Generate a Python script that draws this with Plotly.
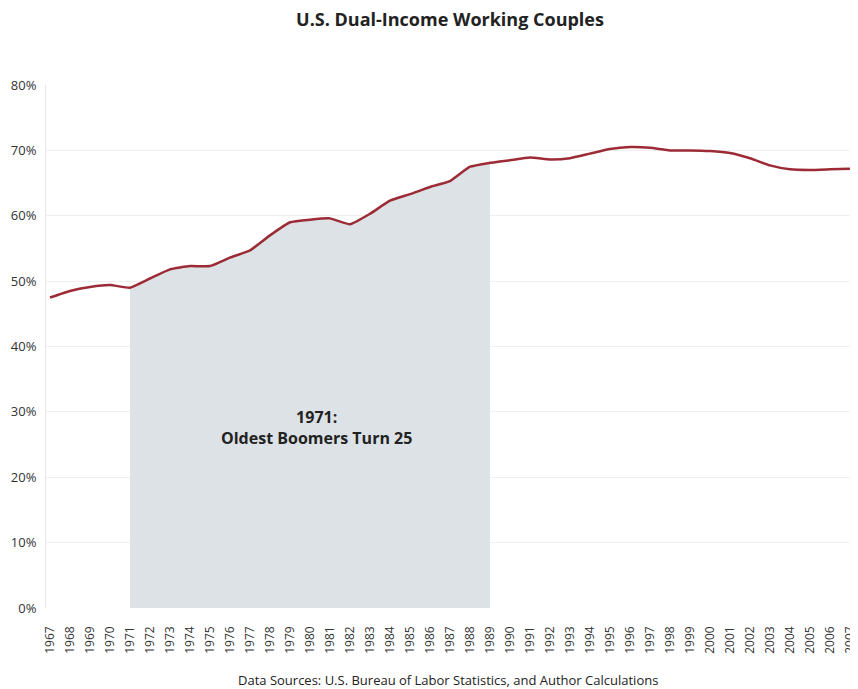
import plotly.graph_objects as go

years = list(range(1967, 2008))
pct = [47.5, 48.5, 49.1, 49.4, 49.0, 50.4, 51.8, 52.3, 52.3, 53.6, 54.7, 57.0,
       59.0, 59.4, 59.6, 58.7, 60.3, 62.3, 63.3, 64.4, 65.3, 67.5, 68.1,
       68.5, 68.9, 68.6, 68.8, 69.5, 70.2, 70.5, 70.4, 70.0, 70.0, 69.9,
       69.6, 68.8, 67.7, 67.1, 67.0, 67.1, 67.2]

shade_start = 1971
shade_end = 1989
annot_text = "<b>1971:<br>Oldest Boomers Turn 25</b>"
title_text = "<b>U.S. Dual-Income Working Couples</b>"
source_text = "Data Sources: U.S. Bureau of Labor Statistics, and Author Calculations"
y_ticks = [0, 10, 20, 30, 40, 50, 60, 70, 80]
y_ticklabels = [f"{v}%" for v in y_ticks]

shade_x = [y for y in years if shade_start <= y <= shade_end]
shade_y = [pct[years.index(y)] for y in shade_x]

fig = go.Figure()
fig.add_trace(go.Scatter(x=shade_x, y=shade_y, mode="lines", line=dict(width=0),
                         fill="tozeroy", fillcolor="#dde2e6", hoverinfo="skip",
                         showlegend=False))
fig.add_trace(go.Scatter(x=years, y=pct, mode="lines",
                         line=dict(color="#9c2b35", width=2.5, shape="spline", smoothing=0.4),
                         showlegend=False))

fig.add_annotation(x=1980.3, y=27.6, text=annot_text,
                   showarrow=False, font=dict(family="Open Sans", size=16, color="#222"),
                   xanchor="center", yanchor="middle")
fig.add_annotation(x=0.4957, y=0, xref="paper", yref="paper", text=source_text,
                   showarrow=False, font=dict(family="Open Sans", size=13, color="#222"),
                   xanchor="center", yanchor="middle", yshift=-72)

fig.update_layout(
    width=850, height=681,
    margin=dict(l=38, r=2, t=77, b=81, autoexpand=False),
    paper_bgcolor="white", plot_bgcolor="white",
    title=dict(text=title_text, x=0.52, xanchor="center", y=0.983, yanchor="middle",
               font=dict(family="Open Sans", size=18, color="#222")),
    font=dict(family="Open Sans", color="#333"),
    xaxis=dict(range=[1966.8, 2007.3], tickmode="array", tickvals=years,
               ticktext=[str(y) for y in years], tickangle=-90, automargin=False,
               tickfont=dict(size=12, color="#333"), showgrid=False, zeroline=False,
               showline=False, ticks="", ticklabelstandoff=15,
               ticklabeloverflow="allow"),
    yaxis=dict(range=[0, 80], tickmode="array", tickvals=y_ticks, ticktext=y_ticklabels,
               automargin=False,
               tickfont=dict(size=13, color="#333"), showgrid=True, gridcolor="#efefef",
               gridwidth=1, zeroline=False, showline=True, linecolor="#e6e6e6",
               ticks="", ticklabelstandoff=6),
)
fig.write_html("out.html")
